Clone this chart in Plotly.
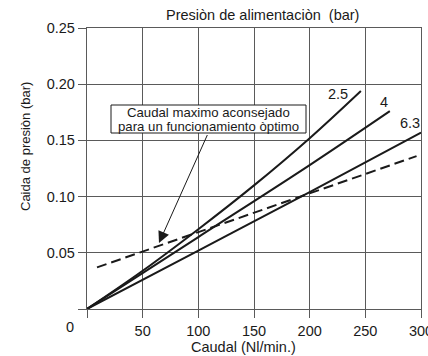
import plotly.graph_objects as go

# ---- data ----
flow_25 = [0, 50, 100, 150, 200, 246]
drop_25 = [0, 0.034, 0.071, 0.110, 0.152, 0.194]
flow_4 = [0, 100, 200, 272]
drop_4 = [0, 0.064, 0.128, 0.176]
flow_63 = [0, 100, 200, 300]
drop_63 = [0, 0.052, 0.104, 0.157]
flow_max = [9, 296]
drop_max = [0.037, 0.136]

pressure_labels = ["2.5", "4", "6.3"]
x_ticks = [0, 50, 100, 150, 200, 250, 300]
x_ticktext = ["", "50", "100", "150", "200", "250", "300"]
y_ticks = [0, 0.05, 0.10, 0.15, 0.20, 0.25]
y_ticktext = ["", "0.05", "0.10", "0.15", "0.20", "0.25"]

W, H = 428, 356
L, R, T, B = 87, 7, 28, 47
PW, PH = W - L - R, H - T - B
XR, YR = [0, 300], [0, 0.25]


def px2x(px):
    return XR[0] + (px - L) * (XR[1] - XR[0]) / PW


def py2y(py):
    return YR[0] + (T + PH - py) * (YR[1] - YR[0]) / PH


FONT = "Liberation Sans, Arial, sans-serif"
INK = "#1a1a1a"
GRID = "#5a5a5a"

fig = go.Figure()
line_style = dict(color=INK, width=2)
fig.add_trace(go.Scatter(x=flow_25, y=drop_25, mode="lines", line=dict(shape="spline", **line_style), showlegend=False))
fig.add_trace(go.Scatter(x=flow_4, y=drop_4, mode="lines", line=dict(shape="spline", **line_style), showlegend=False))
fig.add_trace(go.Scatter(x=flow_63, y=drop_63, mode="lines", line=dict(shape="spline", **line_style), showlegend=False))
fig.add_trace(go.Scatter(x=flow_max, y=drop_max, mode="lines",
                         line=dict(color=INK, width=2, dash="10px,5px"), showlegend=False))

axis_common = dict(showgrid=True, gridcolor=GRID, gridwidth=1.3, zeroline=False,
                   ticks="outside", ticklen=8, tickcolor=GRID, tickwidth=1.3,
                   showline=True, linecolor=GRID, linewidth=1.3, mirror=True,
                   automargin=False,
                   tickfont=dict(family=FONT, size=14.5, color=INK))
fig.update_xaxes(range=XR, tickmode="array", tickvals=x_ticks, ticktext=x_ticktext,
                 ticklabeloverflow="allow", **axis_common)
fig.update_yaxes(range=YR, tickmode="array", tickvals=y_ticks, ticktext=y_ticktext, **axis_common)

ann = []
# corner zero
ann.append(dict(x=0, y=0, xref="x", yref="y", text="0", showarrow=False, xshift=-17, yshift=-18,
                font=dict(family=FONT, size=14.5, color=INK)))
# top title
ann.append(dict(x=(262 - L) / PW, y=1 + (T - 15) / PH, xref="paper", yref="paper",
                text="Presiòn de alimentaciòn  (bar)", showarrow=False, yanchor="middle",
                font=dict(family=FONT, size=14.5, color=INK)))
# x title
ann.append(dict(x=(243 - L) / PW, y=-(347 - (T + PH)) / PH, xref="paper", yref="paper",
                text="Caudal (Nl/min.)", showarrow=False, yanchor="middle",
                font=dict(family=FONT, size=14.5, color=INK)))
# y title
ann.append(dict(x=-(L - 25) / PW, y=(T + PH - 147) / PH, xref="paper", yref="paper",
                text="Caida de presiòn (bar)", showarrow=False, textangle=-90,
                xanchor="center", yanchor="middle",
                font=dict(family=FONT, size=13, color=INK)))
# curve labels
for lab, (px, py) in zip(pressure_labels, [(338, 94), (384, 102), (410, 123)]):
    ann.append(dict(x=px2x(px), y=py2y(py), xref="x", yref="y", text=lab, showarrow=False,
                    font=dict(family=FONT, size=14.5, color=INK)))
# box text
ann.append(dict(x=px2x(208.5), y=py2y(112), xref="x", yref="y", text="Caudal maximo aconsejado",
                showarrow=False, font=dict(family=FONT, size=13.2, color=INK)))
ann.append(dict(x=px2x(208.5), y=py2y(126), xref="x", yref="y", text="para un funcionamiento òptimo",
                showarrow=False, font=dict(family=FONT, size=13.2, color=INK)))
# arrow
ann.append(dict(x=px2x(159), y=py2y(243), xref="x", yref="y", ax=px2x(208), ay=py2y(133.5),
                axref="x", ayref="y", text="", showarrow=True, arrowhead=2, arrowsize=2.3,
                arrowwidth=1, arrowcolor=INK))

fig.add_shape(type="rect", xref="x", yref="y", x0=px2x(111), x1=px2x(306), y0=py2y(105), y1=py2y(133),
              line=dict(color=INK, width=1), fillcolor="white", layer="above")

fig.update_layout(width=W, height=H, margin=dict(l=L, r=R, t=T, b=B, autoexpand=False),
                  paper_bgcolor="white", plot_bgcolor="white", annotations=ann,
                  font=dict(family=FONT, color=INK))
fig.write_html("out.html")
